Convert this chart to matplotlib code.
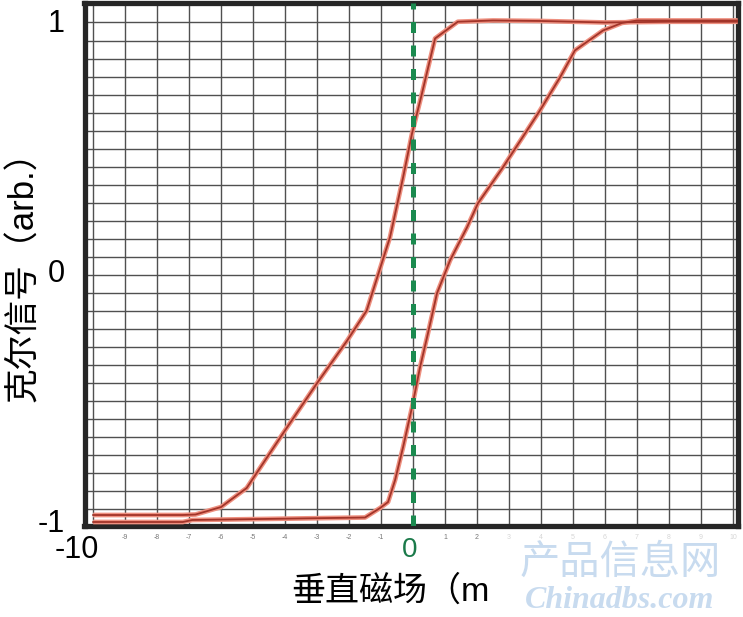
import numpy as np
import matplotlib
matplotlib.use("Agg")
import matplotlib.pyplot as plt

plt.rcParams['font.family'] = ['Liberation Sans', 'Noto Sans CJK SC', 'DejaVu Sans']

# descending branch of the loop (field swept from + to -), listed left to right
x_down = [-10.0, -7.2, -6.8, -6.0, -5.2, -4.1, -3.0, -2.05, -1.45, -0.72, -0.31,
          -0.03, 0.28, 0.69, 1.4, 2.5, 4.0, 6.0, 8.0, 10.15]
y_down = [-0.98, -0.98, -0.978, -0.948, -0.872, -0.66, -0.452, -0.28, -0.162, 0.132,
          0.372, 0.548, 0.708, 0.928, 0.995, 1.0, 0.998, 0.992, 0.995, 0.995]

# ascending branch (field swept from - to +)
x_up = [-10.0, -7.2, -6.9, -1.5, -1.03, -0.78, -0.56, -0.31, -0.03, 0.22, 0.44,
        0.75, 1.16, 1.69, 2.03, 2.8, 3.5, 3.97, 4.6, 5.06, 5.94, 6.53, 7.0, 10.15]
y_up = [-1.008, -1.008, -1.0, -0.99, -0.952, -0.928, -0.84, -0.708, -0.548, -0.388,
        -0.268, -0.092, 0.04, 0.172, 0.268, 0.41, 0.547, 0.64, 0.773, 0.88, 0.96,
        0.99, 1.0, 1.0]

x_ticks = list(range(-10, 11))
y_ticks = [-1, 0, 1]
y_ticklabels = ['-1', '0', '1']
x_label = '垂直磁场（m'
y_label = '克尔信号（arb.）'

W, H = 743, 617
fig = plt.figure(figsize=(W / 100, H / 100), dpi=100)
ax = fig.add_axes([84.5 / W, 1 - 526 / H, (738 - 84.5) / W, (526 - 3) / H])
ax.set_xlim(-10.27, 10.16)
ax.set_ylim(-1.024, 1.07)

# grid
ax.set_xticks(x_ticks)
# tiny labels under -10 and 0 are hidden by the big ones
ax.set_xticklabels(['' if t in (-10, 0) else str(t) for t in x_ticks])
ax.set_yticks(np.arange(0.992, -0.98, -0.07216), minor=True)
ax.set_yticks(y_ticks)
ax.set_yticklabels(y_ticklabels, fontsize=22)
ax.grid(axis='x', which='major', color='#505050', lw=1.0)
ax.grid(axis='y', which='minor', color='#505050', lw=1.0)
ax.tick_params(axis='y', which='both', length=0, pad=14)
ax.tick_params(axis='x', length=0, pad=6, labelsize=5, labelcolor='#777777')
for lab, t in zip(ax.get_xticklabels(), x_ticks):
    if t >= 3:
        lab.set_color('#d6d6d6')
for s in ax.spines.values():
    s.set_linewidth(3.8)
    s.set_color('#262626')

# loops
for xs, ys in [(x_down, y_down), (x_up, y_up)]:
    ax.plot(xs, ys, color='#ee9080', lw=3.4, solid_capstyle='butt', zorder=3)
    ax.plot(xs, ys, color='#a23429', lw=1.3, zorder=4)

ax.axvline(0, color='#1b8a4f', lw=3.6, dashes=(2.2, 2.5), zorder=5)

# big labels pasted under the axis
ax.text(-10.5, -0.045, '-10', transform=ax.get_xaxis_transform(), fontsize=22,
        ha='center', va='center')
ax.text(-0.1, -0.045, '0', transform=ax.get_xaxis_transform(), fontsize=20,
        color='#1b7a4a', ha='center', va='center')
ax.text(-3.8, -0.126, x_label, transform=ax.get_xaxis_transform(), fontsize=24.5,
        ha='left', va='center')
fig.text(24 / W, 1 - 268 / H, y_label, rotation=90, fontsize=25,
         ha='center', va='center')

# watermark
fig.text(620 / W, 1 - 562 / H, '产品信息网', fontsize=29, color='#c8dbef',
         ha='center', va='center', family=['Noto Sans CJK SC'])
fig.text(620 / W, 1 - 600 / H, 'Chinadbs.com', fontsize=23, color='#c8dbef',
         ha='center', va='center', family=['Liberation Serif'],
         weight='bold', style='italic')

fig.savefig('out.png', dpi=100)
